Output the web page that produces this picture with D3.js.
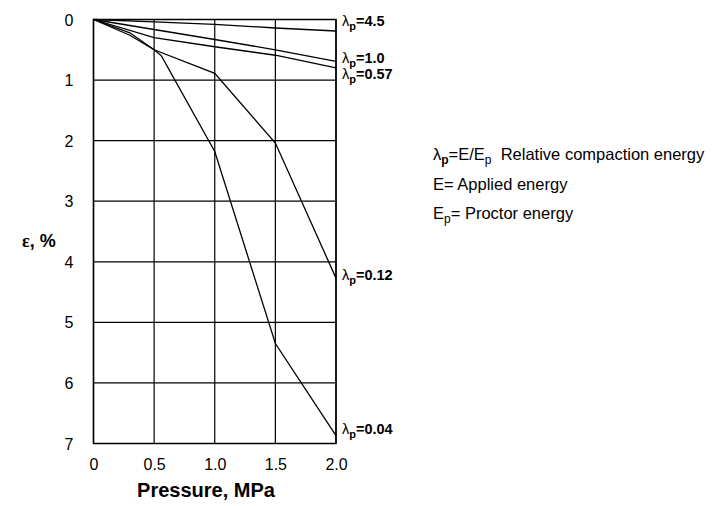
<!DOCTYPE html>
<html>
<head>
<meta charset="utf-8">
<script src="https://cdn.jsdelivr.net/npm/d3@7"></script>
<style>
  html, body { margin: 0; padding: 0; background: #fff; }
  svg { display: block; font-family: "Liberation Sans", Arial, sans-serif; }
</style>
</head>
<body>
<div id="chart"></div>
<script>
// ── Data ──
const xTicks = [0, 0.5, 1.0, 1.5, 2.0];
const xTickLabels = ['0', '0.5', '1.0', '1.5', '2.0'];
const yTicks = [0, 1, 2, 3, 4, 5, 6, 7];

const seriesNames = ['4.5', '1.0', '0.57', '0.12', '0.04'];
const pressure45 = [0, 0.5, 1.0, 1.5, 2.0];
const strain45 = [0, 0.04, 0.08, 0.14, 0.19];
const pressure10 = [0, 0.5, 1.0, 1.5, 2.0];
const strain10 = [0, 0.165, 0.33, 0.5, 0.69];
const pressure057 = [0, 0.5, 1.0, 1.5, 2.0];
const strain057 = [0, 0.3, 0.45, 0.59, 0.8];
const pressure012 = [0, 0.3, 0.5, 1.0, 1.5, 2.0];
const strain012 = [0, 0.22, 0.5, 0.89, 2.04, 4.27];
const pressure004 = [0, 0.3, 0.5, 0.56, 1.0, 1.5, 2.0];
const strain004 = [0, 0.26, 0.5, 0.6, 2.18, 5.35, 6.87];

const series = [
  { name: seriesNames[0], p: pressure45, e: strain45 },
  { name: seriesNames[1], p: pressure10, e: strain10 },
  { name: seriesNames[2], p: pressure057, e: strain057 },
  { name: seriesNames[3], p: pressure012, e: strain012 },
  { name: seriesNames[4], p: pressure004, e: strain004 }
];
// label offsets (dy) so labels don't collide
const labelDy = [-5.5, 2, 11, 1.5, -2];

const width = 715, height = 506;
const margin = { left: 93.5, top: 19.5, right: 715 - 336, bottom: 506 - 443.5 };

const svg = d3.select('#chart').append('svg')
  .attr('width', width).attr('height', height);

const x = d3.scaleLinear().domain([0, 2]).range([margin.left, width - margin.right]);
const y = d3.scaleLinear().domain([0, 7]).range([margin.top, height - margin.bottom]);

// Grid
const g = svg.append('g');
xTicks.forEach(t => {
  g.append('line').attr('x1', x(t)).attr('x2', x(t))
    .attr('y1', y(0)).attr('y2', y(7)).attr('stroke', '#000').attr('stroke-width', 1.2);
});
yTicks.forEach(t => {
  g.append('line').attr('x1', x(0)).attr('x2', x(2))
    .attr('y1', y(t)).attr('y2', y(t)).attr('stroke', '#000').attr('stroke-width', 1.2);
});
g.append('rect').attr('x', x(0)).attr('y', y(0))
  .attr('width', x(2) - x(0)).attr('height', y(7) - y(0))
  .attr('fill', 'none').attr('stroke', '#000').attr('stroke-width', 1.5);

// Axes tick labels
const yAxis = svg.append('g').attr('transform', 'translate(' + (x(0) - 17) + ',0)')
  .call(d3.axisLeft(y).tickValues(yTicks).tickSize(0).tickFormat(d3.format('d')));
yAxis.select('.domain').remove();
yAxis.selectAll('text').style('font-size', '16px').style('font-family', '"Liberation Sans", Arial, sans-serif')
  .attr('dy', '0.35em');

const xAxis = svg.append('g').attr('transform', 'translate(0,' + (y(7) + 12) + ')')
  .call(d3.axisBottom(x).tickValues(xTicks).tickSize(0).tickFormat((d, i) => xTickLabels[i]));
xAxis.select('.domain').remove();
xAxis.selectAll('text').style('font-size', '16px').style('font-family', '"Liberation Sans", Arial, sans-serif');

// Axis titles
svg.append('text').attr('x', 206).attr('y', 497).attr('text-anchor', 'middle')
  .style('font-size', '20px').style('font-weight', 'bold').text('Pressure, MPa');
const yt = svg.append('text').attr('x', 22).attr('y', 247)
  .style('font-size', '18px').style('font-weight', 'bold');
yt.append('tspan').style('font-family', '"Liberation Serif", serif').text('ε');
yt.append('tspan').text(', %');

// Lines
const line = d3.line().x(d => x(d[0])).y(d => y(d[1]));
series.forEach((s, i) => {
  const pts = s.p.map((p, k) => [p, s.e[k]]);
  svg.append('path').attr('d', line(pts))
    .attr('fill', 'none').attr('stroke', '#000').attr('stroke-width', 1.3);
  const last = pts[pts.length - 1];
  const t = svg.append('text').attr('x', x(2) + 6).attr('y', y(last[1]) + labelDy[i])
    .style('font-size', '14.5px').style('font-weight', 'bold');
  t.append('tspan').style('font-weight', 'normal').text('λ');
  t.append('tspan').attr('dy', 4).style('font-size', '11px').text('p');
  t.append('tspan').attr('dy', -4).text('=' + s.name);
});

// Legend / notes
const notes = svg.append('g').style('font-size', '16.5px');
const n1 = notes.append('text').attr('x', 433).attr('y', 160);
n1.append('tspan').text('λ');
n1.append('tspan').attr('dy', 4).style('font-size', '12px').style('font-weight', 'bold').text('p');
n1.append('tspan').attr('dy', -4).text('=E/E');
n1.append('tspan').attr('dy', 4).style('font-size', '12px').text('p');
n1.append('tspan').attr('dy', -4).text('\u00a0 Relative compaction energy');
notes.append('text').attr('x', 433).attr('y', 190).text('E= Applied energy');
const n3 = notes.append('text').attr('x', 433).attr('y', 219);
n3.append('tspan').text('E');
n3.append('tspan').attr('dy', 4).style('font-size', '12px').text('p');
n3.append('tspan').attr('dy', -4).text('= Proctor energy');
</script>
</body>
</html>
